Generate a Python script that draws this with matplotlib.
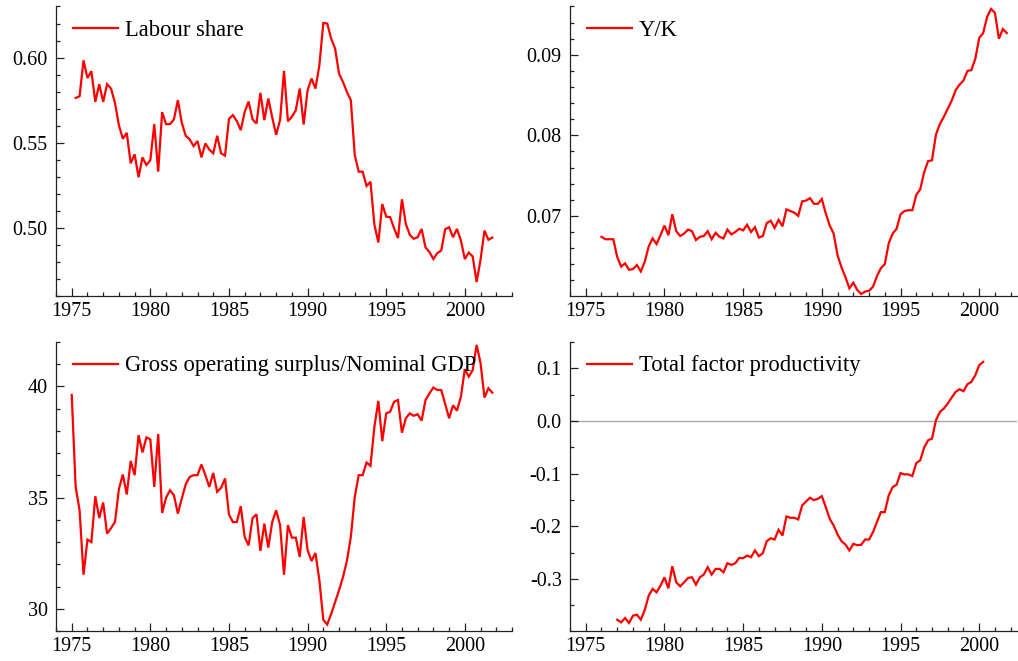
import numpy as np
import matplotlib
matplotlib.use("Agg")
import matplotlib.pyplot as plt
from matplotlib.ticker import MultipleLocator, FormatStrFormatter

# ---------------- data (quarterly) ----------------
labour_start = 1975.25
labour_share = [
    0.5763, 0.5773, 0.5984, 0.5880, 0.5920, 0.5740, 0.5844, 0.5740, 0.5844, 0.5818,
    0.5734, 0.5603, 0.5523, 0.5558, 0.5379, 0.5432, 0.5297, 0.5414, 0.5369, 0.5398,
    0.5609, 0.5330, 0.5680, 0.5609, 0.5609, 0.5637, 0.5750, 0.5617, 0.5541, 0.5520,
    0.5480, 0.5510, 0.5414, 0.5496, 0.5460, 0.5438, 0.5541, 0.5438, 0.5424, 0.5640,
    0.5662, 0.5627, 0.5574, 0.5681, 0.5742, 0.5637, 0.5613, 0.5793, 0.5633, 0.5760,
    0.5649, 0.5547, 0.5633, 0.5922, 0.5626, 0.5652, 0.5691, 0.5818, 0.5607, 0.5808,
    0.5877, 0.5818, 0.5955, 0.6203, 0.6200, 0.6111, 0.6053, 0.5906, 0.5857, 0.5798,
    0.5750, 0.5428, 0.5330, 0.5330, 0.5246, 0.5271, 0.5018, 0.4914, 0.5140, 0.5066,
    0.5063, 0.4998, 0.4940, 0.5168, 0.5023, 0.4959, 0.4936, 0.4945, 0.4994, 0.4885,
    0.4858, 0.4817, 0.4852, 0.4867, 0.4992, 0.5004, 0.4945, 0.4994, 0.4926, 0.4817,
    0.4855, 0.4832, 0.4682, 0.4813, 0.4984, 0.4930, 0.4943,
]

yk_start = 1976.0
y_over_k = [
    0.0674, 0.0671, 0.0671, 0.0671, 0.0649, 0.0637, 0.0641, 0.0633, 0.0634, 0.0639,
    0.0631, 0.0643, 0.0662, 0.0672, 0.0665, 0.0676, 0.0688, 0.0676, 0.0702, 0.0681,
    0.0675, 0.0678, 0.0683, 0.0681, 0.0670, 0.0674, 0.0675, 0.0681, 0.0671, 0.0679,
    0.0674, 0.0672, 0.0683, 0.0677, 0.0680, 0.0684, 0.0682, 0.0689, 0.0680, 0.0686,
    0.0673, 0.0675, 0.0691, 0.0694, 0.0685, 0.0695, 0.0687, 0.0708, 0.0706, 0.0704,
    0.0700, 0.0718, 0.0719, 0.0722, 0.0715, 0.0715, 0.0721, 0.0703, 0.0688, 0.0678,
    0.0651, 0.0636, 0.0624, 0.0610, 0.0617, 0.0608, 0.0603, 0.0606, 0.0607, 0.0612,
    0.0625, 0.0635, 0.0640, 0.0666, 0.0678, 0.0684, 0.0702, 0.0706, 0.0707, 0.0707,
    0.0726, 0.0733, 0.0754, 0.0768, 0.0769, 0.0801, 0.0814, 0.0823, 0.0833, 0.0843,
    0.0856, 0.0863, 0.0868, 0.0880, 0.0881, 0.0895, 0.0921, 0.0927, 0.0947, 0.0957,
    0.0952, 0.0920, 0.0932, 0.0927,
]

gos_start = 1975.0
gos_gdp = [
    39.62, 35.48, 34.43, 31.53, 33.11, 33.00, 35.06, 34.08, 34.78, 33.38,
    33.63, 33.90, 35.38, 36.04, 35.14, 36.65, 36.01, 37.81, 37.03, 37.71,
    37.62, 35.48, 37.86, 34.31, 35.00, 35.33, 35.11, 34.28, 34.96, 35.60,
    35.93, 36.01, 36.01, 36.49, 36.01, 35.48, 36.11, 35.26, 35.44, 35.86,
    34.24, 33.90, 33.90, 34.61, 33.23, 32.85, 34.08, 34.25, 32.60, 33.83,
    32.75, 33.90, 34.43, 33.76, 31.53, 33.76, 33.20, 33.20, 32.33, 34.13,
    32.63, 32.15, 32.51, 31.28, 29.50, 29.29, 29.77, 30.30, 30.83, 31.42,
    32.15, 33.23, 35.03, 36.01, 36.01, 36.58, 36.43, 38.19, 39.35, 37.54,
    38.79, 38.86, 39.31, 39.39, 37.92, 38.57, 38.79, 38.68, 38.75, 38.46,
    39.39, 39.69, 39.95, 39.84, 39.84, 39.21, 38.57, 39.15, 38.91, 39.54,
    40.78, 40.44, 40.74, 41.87, 41.05, 39.50, 39.92, 39.72,
]

tfp_start = 1977.0
tfp = [
    -0.3775, -0.3826, -0.3743, -0.3838, -0.3699, -0.3680, -0.3775, -0.3590, -0.3318, -0.3190,
    -0.3255, -0.3128, -0.2970, -0.3179, -0.2760, -0.3065, -0.3141, -0.3065, -0.2981, -0.2970,
    -0.3109, -0.2970, -0.2918, -0.2779, -0.2918, -0.2810, -0.2810, -0.2874, -0.2703, -0.2734,
    -0.2703, -0.2601, -0.2607, -0.2557, -0.2588, -0.2462, -0.2569, -0.2512, -0.2284, -0.2227,
    -0.2252, -0.2068, -0.2176, -0.1814, -0.1839, -0.1839, -0.1871, -0.1605, -0.1529, -0.1459,
    -0.1504, -0.1478, -0.1428, -0.1637, -0.1858, -0.1985, -0.2157, -0.2284, -0.2347, -0.2461,
    -0.2334, -0.2360, -0.2353, -0.2252, -0.2252, -0.2113, -0.1922, -0.1732, -0.1732, -0.1414,
    -0.1256, -0.1211, -0.0990, -0.1015, -0.1015, -0.1047, -0.0800, -0.0748, -0.0507, -0.0367,
    -0.0335, 0.0013, 0.0171, 0.0236, 0.0331, 0.0445, 0.0552, 0.0603, 0.0565, 0.0698,
    0.0742, 0.0870, 0.1060, 0.1123,
]

labels = ["Labour share", "Y/K", "Gross operating surplus/Nominal GDP",
          "Total factor productivity"]


def quarters(start, n):
    return start + 0.25 * np.arange(n)


# ---------------- style ----------------
plt.rcParams["font.family"] = ["Liberation Serif", "DejaVu Serif"]
plt.rcParams["axes.unicode_minus"] = False

W, H = 1018, 661
fig = plt.figure(figsize=(W / 100, H / 100), dpi=100)


def px_axes(l, r, t, b):
    return fig.add_axes([l / W, 1 - b / H, (r - l) / W, (b - t) / H])


ax1 = px_axes(56, 512, 6.5, 296)
ax2 = px_axes(570, 1017, 6.5, 296)
ax3 = px_axes(56, 512, 342, 631)
ax4 = px_axes(570, 1017, 342, 631)

red = "#ff0000"
spine_col = "#222222"

series = [
    (ax1, quarters(labour_start, len(labour_share)), labour_share),
    (ax2, quarters(yk_start, len(y_over_k)), y_over_k),
    (ax3, quarters(gos_start, len(gos_gdp)), gos_gdp),
    (ax4, quarters(tfp_start, len(tfp)), tfp),
]

for (ax, x, y), lab in zip(series, labels):
    ax.plot(x, y, color=red, lw=1.6, label=lab, solid_joinstyle="miter")
    for s in ("top", "right"):
        ax.spines[s].set_visible(False)
    for s in ("left", "bottom"):
        ax.spines[s].set_color(spine_col)
        ax.spines[s].set_linewidth(0.9)
    ax.xaxis.set_major_locator(MultipleLocator(5))
    ax.xaxis.set_minor_locator(MultipleLocator(1))
    ax.tick_params(which="both", direction="in", colors=spine_col,
                   labelcolor="black", labelsize=14.5, width=0.9)
    ax.tick_params(which="major", length=6)
    ax.tick_params(which="minor", length=3)
    ax.tick_params(axis="x", pad=4)
    ax.tick_params(axis="y", pad=6)
    ax.patch.set_visible(False)

ax1.set_xlim(1974, 2003)
ax3.set_xlim(1974, 2003)
ax2.set_xlim(1974, 2002.4)
ax4.set_xlim(1974, 2002.4)

ax1.set_ylim(0.46, 0.63)
ax1.yaxis.set_major_locator(MultipleLocator(0.05))
ax1.yaxis.set_minor_locator(MultipleLocator(0.01))
ax1.yaxis.set_major_formatter(FormatStrFormatter("%.2f"))

ax2.set_ylim(0.06005, 0.096)
ax2.yaxis.set_major_locator(MultipleLocator(0.01))
ax2.yaxis.set_minor_locator(MultipleLocator(0.002))
ax2.yaxis.set_major_formatter(FormatStrFormatter("%.2f"))

ax3.set_ylim(29, 42)
ax3.yaxis.set_major_locator(MultipleLocator(5))
ax3.yaxis.set_minor_locator(MultipleLocator(1))
ax3.yaxis.set_major_formatter(FormatStrFormatter("%d"))

ax4.set_ylim(-0.399, 0.15)
ax4.yaxis.set_major_locator(MultipleLocator(0.1))
ax4.yaxis.set_minor_locator(MultipleLocator(0.05))
ax4.yaxis.set_major_formatter(FormatStrFormatter("%.1f"))
ax4.axhline(0, color="#aaaaaa", lw=1.0, zorder=1)

for ax in (ax1, ax2, ax3, ax4):
    bb = ax.get_position()
    wpx = bb.width * W
    hpx = bb.height * H
    ax.legend(loc="upper left", bbox_to_anchor=(16.5 / wpx, 1 - 13.5 / hpx),
              frameon=False, fontsize=16.3, borderpad=0, borderaxespad=0,
              handlelength=2.0, handletextpad=0.32)

fig.savefig("out.png", dpi=100)
